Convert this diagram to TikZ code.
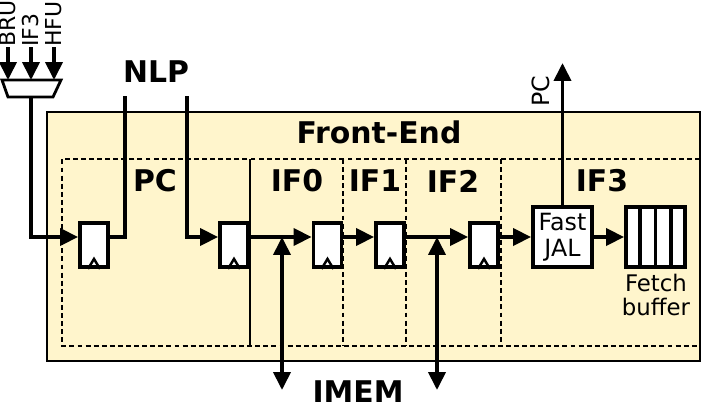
\documentclass[tikz,border=0pt]{standalone}
\usepackage{fontspec}
\setmainfont{DejaVu Sans}
\usetikzlibrary{arrows.meta,calc}
\definecolor{frontend}{RGB}{255,245,204}

\begin{document}
\begin{tikzpicture}[x=0.02cm, y=-0.02cm, >={Triangle[length=0.36cm,width=0.34cm]},
    wire/.style={line width=2.2pt},
    stageline/.style={line width=0.85pt},
    reg/.style={draw, fill=white, line width=2.2pt, minimum width=0.56cm, minimum height=0.88cm, inner sep=0pt},
    unit/.style={draw, fill=white, line width=2.2pt, minimum width=1.18cm, minimum height=1.2cm, inner sep=0pt, align=center},
    stagelabel/.style={font=\bfseries\fontsize{17}{19}\selectfont},
    smalllabel/.style={font=\fontsize{13.5}{16}\selectfont, align=center}]

    \useasboundingbox (0,0) rectangle (704,409);

    % --- BLOCCO FRONT-END (sfondo giallo e stadi tratteggiati) ---
    \draw[line width=1.1pt, fill=frontend] (47,112) rectangle (700,361);
    \draw[stageline, dash pattern=on 2.8pt off 1.8pt] (700,159) -- (62,159) -- (62,346) -- (700,346);
    \draw[stageline] (250,159) -- (250,346);
    \foreach \x in {343, 406, 501} {
        \draw[stageline, dash pattern=on 2.8pt off 1.8pt] (\x,159) -- (\x,346);
    }

    % --- ETICHETTE ---
    \node[stagelabel] (fe)  at (379,132) {Front-End};
    \node[stagelabel] (nlp) at (156,72) {NLP};
    \node[stagelabel, inner sep=0pt] (imem) at (358,392) {IMEM};
    \foreach \x/\testo in {155/PC, 297/IF0, 375/IF1, 453/IF2, 602/IF3} {
        \node[stagelabel] (s\testo) at (\x,181) {\testo};
    }

    % Punti di attacco dei fili
    \coordinate (muxout) at (31,97);
    \coordinate (nlpsx)  at (125,96);
    \coordinate (nlpdx)  at (187,96);
    \coordinate (pcout)  at (562.5,63);
    \coordinate (j1) at (282,237);
    \coordinate (j2) at (437,237);
    \coordinate (m1) at (282,390);
    \coordinate (m2) at (437,390);

    % --- MULTIPLEXER DI INGRESSO ---
    \draw[line width=1.6pt, fill=white] (2,80) -- (61,80) -- (53,97) -- (8,97) -- cycle;
    \foreach \x/\nome in {8/BRU, 31/IF3, 54/HFU} {
        \coordinate (mux\nome) at (\x,80);
        \node[rotate=90, anchor=west, inner sep=0pt, font=\fontsize{12.5}{14}\selectfont] (in\nome) at (\x,47) {\nome};
        \draw[wire, ->] (in\nome.west) -- (mux\nome);
    }

    % --- REGISTRI E UNITA' ---
    \node[reg] (r1) at (94,245) {};
    \node[reg] (r2) at (234,245) {};
    \node[reg] (r3) at (327.5,245) {};
    \node[reg] (r4) at (390,245) {};
    \node[reg] (r5) at (484,245) {};
    \node[unit, font=\fontsize{13.5}{15}\selectfont] (fj) at (562.5,237) {Fast\\JAL};
    \node[unit] (fb) at (655.5,237) {};
    \node[inner sep=0pt, font=\fontsize{13}{15}\selectfont] (fblab1) at (656,283) {Fetch};
    \node[inner sep=0pt, font=\fontsize{13}{15}\selectfont] (fblab2) at (656,307) {buffer};

    % Clock dei registri
    \foreach \r in {r1, r2, r3, r4, r5} {
        \draw[line width=1.4pt] ([xshift=-0.12cm]\r.south) -- ([yshift=0.2cm]\r.south) -- ([xshift=0.12cm]\r.south);
    }
    % Celle del buffer
    \foreach \i in {1, 2, 3} {
        \draw[line width=2.2pt] ($(fb.north west)!\i/4!(fb.north east)$) -- ($(fb.south west)!\i/4!(fb.south east)$);
    }

    % --- FILI ---
    \draw[wire, ->] (muxout) |- ([yshift=0.16cm]r1.west);
    \draw[wire] ([yshift=0.16cm]r1.east) -| (nlpsx);
    \draw[wire, ->] (nlpdx) |- ([yshift=0.16cm]r2.west);
    \foreach \a/\b in {r2/r3, r3/r4, r4/r5} {
        \draw[wire, ->] ([yshift=0.16cm]\a.east) -- ([yshift=0.16cm]\b.west);
    }
    \draw[wire, ->] ([yshift=0.16cm]r5.east) -- (fj.west);
    \draw[wire, ->] (fj.east) -- (fb.west);
    \draw[wire, ->] (fj.north) -- (pcout);
    \node[smalllabel, rotate=90] (pclab) at (541,91) {PC};

    % Accessi alla memoria istruzioni
    \draw[wire, <->] (j1) -- (m1);
    \draw[wire, <->] (j2) -- (m2);

\end{tikzpicture}
\end{document}
